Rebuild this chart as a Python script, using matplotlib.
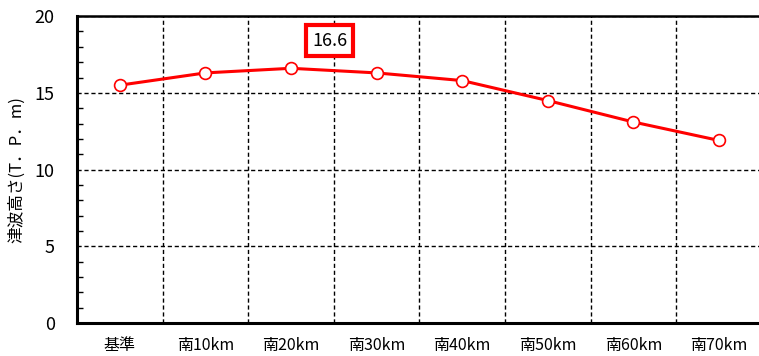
import matplotlib
matplotlib.use("Agg")
import matplotlib.pyplot as plt
from matplotlib.ticker import MultipleLocator

plt.rcParams['font.family'] = ['Noto Sans CJK JP', 'DejaVu Sans']

kategorie = ['基準', '南10km', '南20km', '南30km', '南40km', '南50km', '南60km', '南70km']
altezze = [15.5, 16.3, 16.6, 16.3, 15.8, 14.5, 13.1, 11.9]
etichetta_y = '津波高さ(T．P．m)'

fig = plt.figure(figsize=(7.59, 3.56), dpi=100)
ax = fig.add_axes([0.1015, 0.0927, 0.902, 0.862])

x = list(range(len(kategorie)))
ax.plot(x, altezze, color='red', linewidth=2.2, marker='o', markersize=8.5,
        markerfacecolor='white', markeredgecolor='red', markeredgewidth=1.2, zorder=3)

ax.set_xlim(-0.5, len(kategorie) - 0.5)
ax.set_ylim(0, 20)
ax.yaxis.set_major_locator(MultipleLocator(5))
ax.yaxis.set_minor_locator(MultipleLocator(1))
ax.set_xticks(x)
ax.set_xticklabels(kategorie, fontsize=11.5)
ax.set_xticks([i + 0.5 for i in x[:-1]], minor=True)

ax.tick_params(axis='x', which='major', length=0, pad=10)
ax.tick_params(axis='x', which='minor', length=0)
ax.tick_params(axis='y', which='major', direction='in', length=0, pad=16, labelsize=13)
ax.tick_params(axis='y', which='minor', direction='in', length=4, width=1)

ax.grid(True, axis='y', which='major', color='black', linestyle=(0, (3, 2)), linewidth=1)
ax.grid(True, axis='x', which='minor', color='black', linestyle=(0, (3, 2)), linewidth=1)

for lato in ['left', 'bottom']:
    ax.spines[lato].set_linewidth(2.2)
ax.spines['top'].set_linewidth(1.8)
ax.spines['right'].set_visible(False)

ax.set_ylabel(etichetta_y, fontsize=12, labelpad=7)

# massimo evidenziato
massimo = max(altezze)
ax.text(2.45, 18.4, f'{massimo:.1f}', fontsize=13, ha='center', va='center',
        bbox=dict(boxstyle='square,pad=0.35', facecolor='white', edgecolor='red', linewidth=3))

fig.savefig('out.png', dpi=100)
